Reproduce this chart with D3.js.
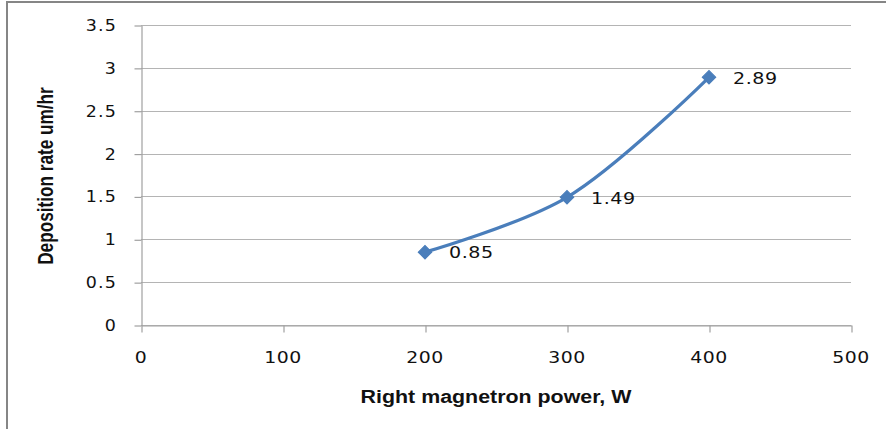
<!DOCTYPE html>
<html>
<head>
<meta charset="utf-8">
<script src="https://cdn.jsdelivr.net/npm/d3@7"></script>
<style>
  html, body { margin: 0; padding: 0; background: #fff; }
  svg { display: block; }
</style>
</head>
<body>
<svg id="chart"></svg>
<script>
var width = 886;
var height = 429;

// data
var powerW = [200, 300, 400];
var rateUmHr = [0.85, 1.49, 2.89];
var xTicks = [0, 100, 200, 300, 400, 500];
var yTicks = [0, 0.5, 1, 1.5, 2, 2.5, 3, 3.5];
var xTitle = "Right magnetron power, W";
var yTitle = "Deposition rate um/hr";

var margin = {top: 25, right: 35, bottom: 104, left: 141};
var stretch = 1.15; // the original image is slightly wider than tall

var svg = d3.select("#chart")
    .attr("width", width)
    .attr("height", height);

// outer chart border (right/bottom fall outside the picture)
svg.append("rect")
    .attr("x", 7)
    .attr("y", 2)
    .attr("width", 900)
    .attr("height", 460)
    .attr("fill", "#fff")
    .attr("stroke", "#868686")
    .attr("stroke-width", 2);

var x = d3.scaleLinear()
    .domain([0, 500])
    .range([margin.left, width - margin.right]);

var y = d3.scaleLinear()
    .domain([0, 3.5])
    .range([height - margin.bottom, margin.top]);

//网格线
svg.append("g")
    .selectAll("line")
    .data(yTicks)
    .join("line")
    .attr("x1", x(0))
    .attr("x2", x(500))
    .attr("y1", d => Math.round(y(d)) + 0.5)
    .attr("y2", d => Math.round(y(d)) + 0.5)
    .attr("stroke", "#b4b4b4")
    .attr("stroke-width", 1.2);

// y axis
var yAxis = g => g
    .attr("transform", `translate(${x(0) + 0.5}, 0.5)`)
    .call(d3.axisLeft(y).tickValues(yTicks).tickSize(7).tickSizeOuter(0))
    .call(g => g.selectAll("line, path").attr("stroke", "#a0a0a0").attr("stroke-width", 1.2))
    .call(g => g.selectAll("text").remove());

// x axis
var xAxis = g => g
    .attr("transform", `translate(0.5, ${y(0) + 0.5})`)
    .call(d3.axisBottom(x).tickValues(xTicks).tickSize(7).tickSizeOuter(0))
    .call(g => g.selectAll("line, path").attr("stroke", "#a0a0a0").attr("stroke-width", 1.2))
    .call(g => g.selectAll("text").remove());

svg.append("g").call(yAxis);
svg.append("g").call(xAxis);

// tick labels, drawn by hand so they can be stretched like the original
svg.append("g")
    .selectAll("text")
    .data(yTicks)
    .join("text")
    .attr("transform", d => `translate(${x(0) - 24}, ${y(d) + 6}) scale(${stretch},1)`)
    .attr("text-anchor", "end")
    .style("font", "15.2px 'DejaVu Sans'")
    .style("letter-spacing", "1px")
    .attr("fill", "#111")
    .text(d => d);

svg.append("g")
    .selectAll("text")
    .data(xTicks)
    .join("text")
    .attr("transform", d => `translate(${x(d)}, ${y(0) + 38}) scale(${stretch},1)`)
    .attr("text-anchor", "middle")
    .style("font", "16.4px 'DejaVu Sans'")
    .style("letter-spacing", "0.5px")
    .attr("fill", "#111")
    .text(d => d);

// axis titles
svg.append("text")
    .attr("transform", `translate(${(x(0) + x(500)) / 2}, 403) scale(${stretch},1)`)
    .attr("text-anchor", "middle")
    .style("font", "bold 18.6px 'Liberation Sans'")
    .attr("fill", "#111")
    .text(xTitle);

svg.append("text")
    .attr("transform", `translate(53, 176) scale(1.25,1) rotate(-90)`)
    .attr("text-anchor", "middle")
    .style("font", "bold 17.2px 'Liberation Sans'")
    .attr("fill", "#111")
    .text(yTitle);

// smoothed line
var points = powerW.map((p, i) => [p, rateUmHr[i]]);

var line = d3.line()
    .x(d => x(d[0]))
    .y(d => y(d[1]))
    .curve(d3.curveCatmullRom.alpha(0.5));

svg.append("path")
    .datum(points)
    .attr("fill", "none")
    .attr("stroke", "#4a7ebb")
    .attr("stroke-width", 3.2)
    .attr("stroke-linejoin", "round")
    .attr("stroke-linecap", "round")
    .attr("d", line);

// diamond markers
svg.append("g")
    .selectAll("path")
    .data(points)
    .join("path")
    .attr("transform", d => `translate(${x(d[0])}, ${y(d[1])}) rotate(45)`)
    .attr("d", d3.symbol().type(d3.symbolSquare).size(92))
    .attr("fill", "#4a7ebb")
    .attr("stroke", "#4a7ebb")
    .attr("stroke-width", 1);

// data labels
svg.append("g")
    .selectAll("text")
    .data(points)
    .join("text")
    .attr("transform", d => `translate(${x(d[0]) + 24}, ${y(d[1]) + 6.3}) scale(${stretch},1)`)
    .style("font", "16.6px 'DejaVu Sans'")
    .style("letter-spacing", "0.5px")
    .attr("fill", "#111")
    .text(d => d[1]);
</script>
</body>
</html>
